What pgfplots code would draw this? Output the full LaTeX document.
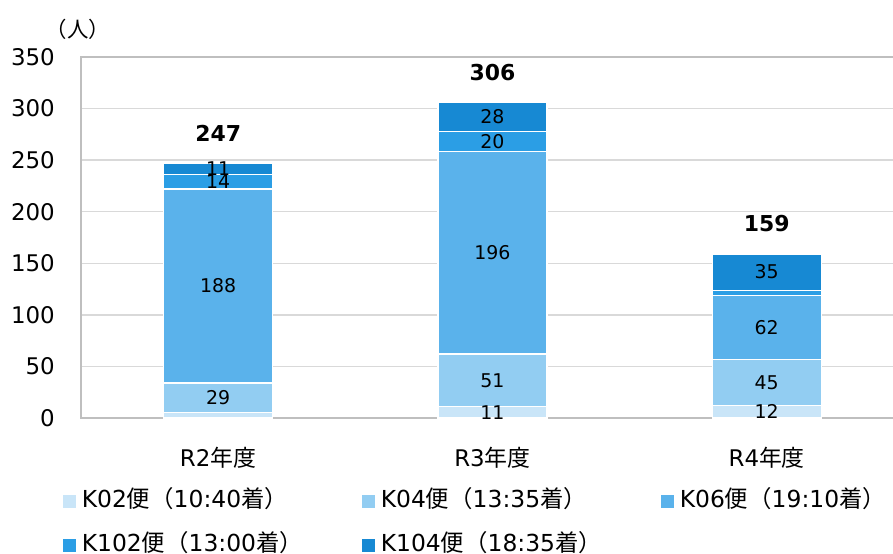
\documentclass[border=0pt]{standalone}
\usepackage{fontspec}
\setmainfont{DejaVu Sans}
\newfontfamily\cjk{Noto Sans CJK JP}
\usepackage{pgfplots}
\pgfplotsset{compat=1.18}

\definecolor{cKa}{HTML}{C9E5F8}
\definecolor{cKb}{HTML}{92CDF2}
\definecolor{cKc}{HTML}{5AB2EB}
\definecolor{cKd}{HTML}{2B9EE5}
\definecolor{cKe}{HTML}{1789D3}

\newcommand{\lbl}{\fontsize{19}{23}\selectfont}
\newcommand{\tot}{\fontsize{22}{26}\selectfont\bfseries}

\begin{document}
\begin{tikzpicture}
\begin{axis}[
  scale only axis, width=817.4bp, height=361bp,
  xmin=-0.5, xmax=2.48, ymin=0, ymax=350,
  ybar stacked, bar width=109bp,
  xtick={0,1,2},
  xticklabels={R2{\cjk 年度}, R3{\cjk 年度}, R4{\cjk 年度}},
  ytick={0,50,...,350},
  major tick length=0pt,
  ymajorgrids,
  grid style={draw=black!15, line width=1.3bp},
  axis line style={draw=black!25, line width=1.5bp},
  /pgf/number format/assume math mode=true,
  yticklabel style={font=\fontsize{23}{28}\selectfont, inner sep=0pt, xshift=-26bp},
  xticklabel style={font=\fontsize{23}{28}\selectfont, anchor=base, yshift=-48bp},
  legend columns=3,
  legend cell align=left,
  legend style={draw=none, fill=none, at={(-0.0262,-0.2922)}, anchor=west,
    font=\fontsize{23.5}{28}\selectfont, row sep=22bp,
    nodes={inner sep=0pt, text height=17bp, text depth=5bp},
    /tikz/every odd column/.style={column sep=6bp}},
  legend image code/.code={\path[#1, draw=none] (0bp,-6.5bp) rectangle (13bp,6.5bp);},
]
\addplot[fill=cKa, draw=white, line width=1.2bp] coordinates {(0,5) (1,11) (2,12)};
\addlegendentry{\makebox[280bp][l]{K02{\cjk 便（}10:40{\cjk 着）}}}
\addplot[fill=cKb, draw=white, line width=1.2bp] coordinates {(0,29) (1,51) (2,45)};
\addlegendentry{\makebox[280bp][l]{K04{\cjk 便（}13:35{\cjk 着）}}}
\addplot[fill=cKc, draw=white, line width=1.2bp] coordinates {(0,188) (1,196) (2,62)};
\addlegendentry{K06{\cjk 便（}19:10{\cjk 着）}}
\addplot[fill=cKd, draw=white, line width=1.2bp] coordinates {(0,14) (1,20) (2,5)};
\addlegendentry{\makebox[280bp][l]{K102{\cjk 便（}13:00{\cjk 着）}}}
\addplot[fill=cKe, draw=white, line width=1.2bp] coordinates {(0,11) (1,28) (2,35)};
\addlegendentry{\makebox[280bp][l]{K104{\cjk 便（}18:35{\cjk 着）}}}

% anchor points for the labels (segment centres and bar tops)
\coordinate (a1) at (axis cs:0,19.5);
\coordinate (a2) at (axis cs:0,128);
\coordinate (a3) at (axis cs:0,229);
\coordinate (a4) at (axis cs:0,241.5);
\coordinate (b0) at (axis cs:1,5.5);
\coordinate (b1) at (axis cs:1,36.5);
\coordinate (b2) at (axis cs:1,160);
\coordinate (b3) at (axis cs:1,268);
\coordinate (b4) at (axis cs:1,292);
\coordinate (c0) at (axis cs:2,6);
\coordinate (c1) at (axis cs:2,34.5);
\coordinate (c2) at (axis cs:2,88);
\coordinate (c4) at (axis cs:2,141.5);
\coordinate (ta) at (axis cs:0,247);
\coordinate (tb) at (axis cs:1,306);
\coordinate (tc) at (axis cs:2,159);
\end{axis}
\node[font=\lbl] at (a1) {29};
\node[font=\lbl] at (a2) {188};
\node[font=\lbl] at (a3) {14};
\node[font=\lbl] at (a4) {11};
\node[font=\lbl] at (b0) {11};
\node[font=\lbl] at (b1) {51};
\node[font=\lbl] at (b2) {196};
\node[font=\lbl] at (b3) {20};
\node[font=\lbl] at (b4) {28};
\node[font=\lbl] at (c0) {12};
\node[font=\lbl] at (c1) {45};
\node[font=\lbl] at (c2) {62};
\node[font=\lbl] at (c4) {35};
\node[font=\tot, yshift=30bp] at (ta) {247};
\node[font=\tot, yshift=30bp] at (tb) {306};
\node[font=\tot, yshift=30bp] at (tc) {159};
\node[font=\fontsize{21.5}{25}\selectfont\cjk] at (-3bp,389bp) {（人）};
\pgfresetboundingbox
\path[use as bounding box] (-81bp,-136bp) rectangle (812bp,418bp);
\end{tikzpicture}
\end{document}
